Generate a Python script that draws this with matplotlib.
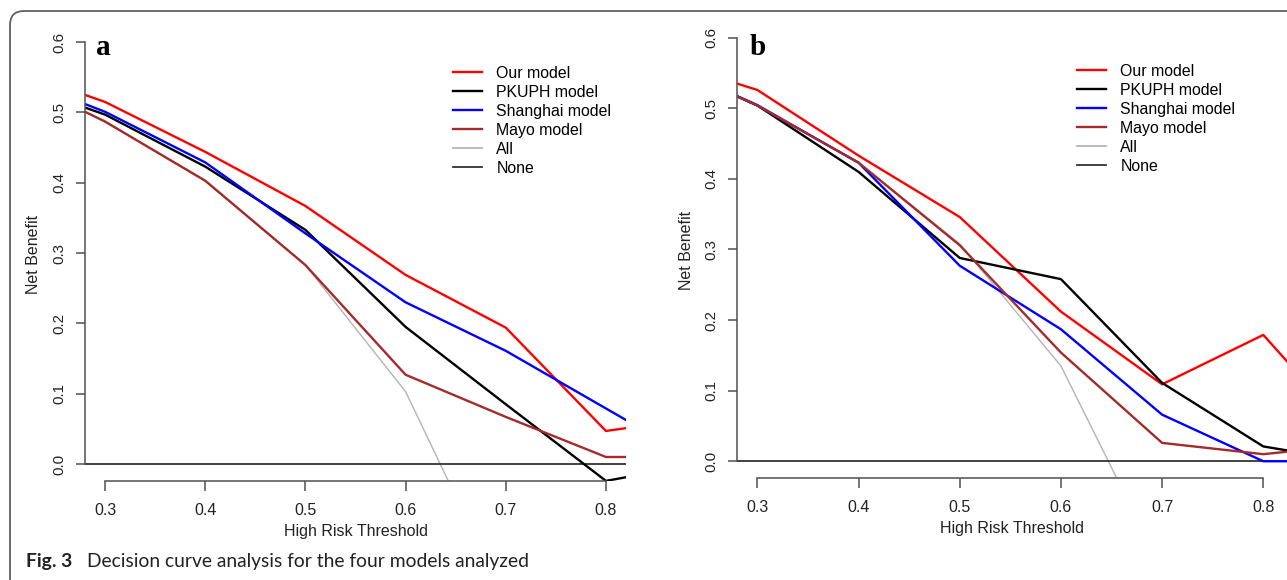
import matplotlib.pyplot as plt
from matplotlib.lines import Line2D
from matplotlib.patches import FancyBboxPatch
from matplotlib.transforms import IdentityTransform

plt.rcParams['font.family'] = ['Liberation Sans', 'DejaVu Sans']

# risk thresholds (curves run past the visible window on both sides)
thresholds = [0.2, 0.3, 0.4, 0.5, 0.6, 0.7, 0.8, 0.9]
labels = ["Our model", "PKUPH model", "Shanghai model", "Mayo model", "All", "None"]

# panel a net benefit
ours_a = [0.565, 0.515, 0.444, 0.367, 0.269, 0.194, 0.047, 0.067]
pkuph_a = [0.547, 0.497, 0.423, 0.333, 0.195, 0.085, -0.024, 0.002]
shanghai_a = [0.556, 0.501, 0.429, 0.328, 0.230, 0.161, 0.079, -0.003]
mayo_a = [0.557, 0.487, 0.403, 0.283, 0.127, 0.067, 0.010, 0.010]
all_a = [0.552, 0.488, 0.402, 0.283, 0.103, -0.195, -0.790, -2.230]

# panel b net benefit
ours_b = [0.571, 0.526, 0.433, 0.346, 0.212, 0.109, 0.179, 0.019]
pkuph_b = [0.569, 0.504, 0.410, 0.288, 0.258, 0.111, 0.021, -0.003]
shanghai_b = [0.569, 0.504, 0.423, 0.277, 0.187, 0.066, 0.000, 0.000]
mayo_b = [0.569, 0.504, 0.423, 0.306, 0.154, 0.026, 0.010, 0.025]
all_b = [0.5675, 0.506, 0.423, 0.308, 0.135, -0.153, -0.730, -2.100]

colors = ["#ff0000", "#000000", "#0000ff", "#a52a2a", "#b4b4b4", "#333333"]
axis_col = "#505050"

W, H = 1287, 580
fig = plt.figure(figsize=(W / 100, H / 100), dpi=100)


def add_panel(left, right, top, bottom, xlim, series, all_nb, letter, letter_xy, leg_xy, ylab_x):
    ax = fig.add_axes([left / W, 1 - bottom / H, (right - left) / W, (bottom - top) / H])
    ax.set_xlim(*xlim)
    ax.set_ylim(-0.024, 0.62)

    ax.plot(thresholds, all_nb, color=colors[4], lw=1.0)
    ax.axhline(0, color=colors[5], lw=1.3)
    for vals, c in zip(series, colors[:4]):
        ax.plot(thresholds, vals, color=c, lw=1.7)

    for s in ["top", "right"]:
        ax.spines[s].set_visible(False)
    ax.spines["left"].set_bounds(0, 0.6)
    ax.spines["bottom"].set_bounds(0.3, 0.8)
    for s in ["left", "bottom"]:
        ax.spines[s].set_color(axis_col)
        ax.spines[s].set_linewidth(1.1)

    ax.set_xticks([0.3, 0.4, 0.5, 0.6, 0.7, 0.8])
    ax.set_xticklabels(["0.3", "0.4", "0.5", "0.6", "0.7", "0.8"])
    ax.set_yticks([0.0, 0.1, 0.2, 0.3, 0.4, 0.5, 0.6])
    ax.set_yticklabels(["0.0", "0.1", "0.2", "0.3", "0.4", "0.5", "0.6"])
    ax.tick_params(axis="x", length=7, width=1.1, color=axis_col, pad=9, labelsize=11.5, labelcolor="#222222")
    ax.tick_params(axis="y", length=6.5, width=1.1, color=axis_col, pad=7, labelsize=10.8, labelcolor="#222222")
    for t in ax.get_yticklabels():
        t.set_rotation(90)
        t.set_va("center")

    ax.set_xlabel("High Risk Threshold", fontsize=11.5, color="#222222")
    ax.xaxis.set_label_coords(0.5, -0.095)
    ax.set_ylabel("Net Benefit", fontsize=11.5, color="#222222")
    ax.yaxis.set_label_coords((ylab_x - left) / (right - left), 0.5)

    handles = [Line2D([], [], color=c, lw=1.7 if i < 4 else 1.3) for i, c in enumerate(colors)]
    ax.legend(handles, labels, loc="upper left", bbox_to_anchor=(leg_xy[0] / W, 1 - leg_xy[1] / H),
              bbox_transform=fig.transFigure, frameon=False, borderpad=0, borderaxespad=0,
              handlelength=1.84, handletextpad=0.9, labelspacing=0.25, fontsize=11.4)

    fig.text(letter_xy[0] / W, 1 - letter_xy[1] / H, letter, family="Liberation Serif",
             weight="bold", fontsize=21, va="baseline")
    return ax


add_panel(85, 626, 28.1, 480.9, (0.28, 0.82),
          [ours_a, pkuph_a, shanghai_a, mayo_a], all_a, "a", (96, 55), (453, 66), 41)
add_panel(737.1, 1287, 23.6, 478.2, (0.28, 0.8234),
          [ours_b, pkuph_b, shanghai_b, mayo_b], all_b, "b", (750, 55), (1077, 64), 694)

# frame around the figure and its caption
frame = FancyBboxPatch((10, -30), 1320, 599, boxstyle="round,pad=0,rounding_size=14",
                       transform=IdentityTransform(), fill=False, ec="#606060", lw=1.3)
fig.add_artist(frame)

fig.text(26 / W, 1 - 567 / H, "Fig. 3", family=["Lato", "DejaVu Sans"], weight="bold",
         fontsize=13.9, va="baseline", color="#222222")
fig.text(87 / W, 1 - 567 / H, "Decision curve analysis for the four models analyzed",
         family=["Lato", "DejaVu Sans"], fontsize=13.9, va="baseline", color="#222222")

fig.savefig("out.png", dpi=100)
